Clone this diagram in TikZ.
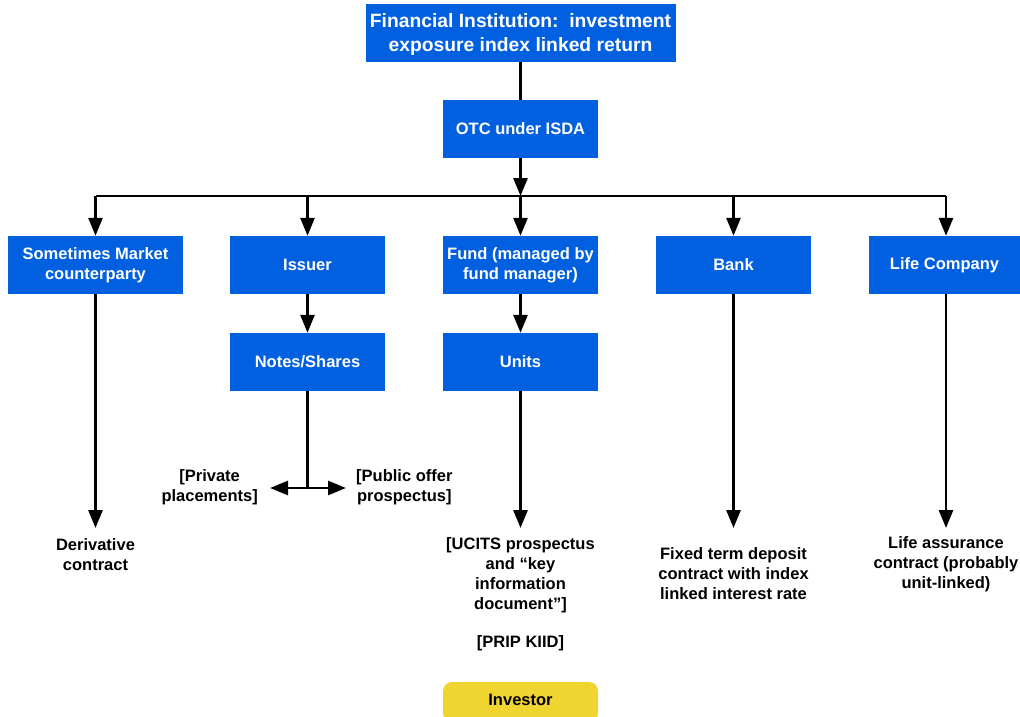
\documentclass[tikz,border=0pt]{standalone}
\usepackage{fontspec}
\setmainfont{Liberation Sans}
\usetikzlibrary{arrows.meta}
\definecolor{boxblue}{RGB}{0,96,223}
\definecolor{invyellow}{RGB}{240,213,48}
\begin{document}
\begin{tikzpicture}[x=1pt,y=-1pt,
  bbox/.style={draw=none,fill=boxblue,text=white,font=\bfseries\fontsize{16.5}{20}\selectfont,align=center,minimum width=155pt,minimum height=58pt,inner sep=2pt},
  lbl/.style={font=\bfseries\fontsize{16.5}{20}\selectfont,align=center,inner sep=0pt},
  conn/.style={line width=2.8pt,-{Triangle[length=18pt,width=14pt]}},
  plain/.style={line width=2.8pt}]
\useasboundingbox (0,0) rectangle (1020,717);
\node[bbox,minimum width=310pt] (fi) at (520.5,33) {};
\node[text=white,font=\bfseries\fontsize{19.3}{24}\selectfont,align=center,inner sep=0pt] (fitext) at (520.5,35) {Financial Institution:\ \ investment\\exposure index linked return};
\node[bbox] (otc) at (520.5,129) {OTC under ISDA};
\coordinate (hub) at (520.5,196);
\coordinate (hl) at (95.5,196);
\coordinate (hr) at (946,196);
\node[bbox,minimum width=175pt] (smc) at (95.5,265) {Sometimes Market\\counterparty};
\node[bbox] (iss) at (307.5,265) {Issuer};
\node[bbox] (fund) at (520.5,265) {Fund (managed by\\fund manager)};
\node[bbox] (bank) at (733.5,265) {Bank};
\node[bbox,minimum width=151pt] (life) at (944.5,265) {Life Company};
\node[bbox] (notes) at (307.5,362) {Notes/Shares};
\node[bbox] (units) at (520.5,362) {Units};
\coordinate (split) at (307.5,488);
\coordinate (pl) at (270,488);
\coordinate (pr) at (346,488);
\node[lbl,anchor=east] (priv) at (258,487) {[Private\\placements]};
\node[lbl,anchor=west] (pub) at (356,487) {[Public offer\\prospectus]};
\node[lbl] (deriv) at (95.5,555) {Derivative\\contract};
\node[lbl] (ucits) at (520.5,575) {[UCITS prospectus\\and ``key\\information\\document'']};
\node[lbl] (prip) at (520.5,643) {[PRIP KIID]};
\node[lbl] (fixed) at (733.5,574) {Fixed term deposit\\contract with index\\linked interest rate};
\node[lbl] (lifec) at (946,564) {Life assurance\\contract (probably\\unit-linked)};
\node[fill=invyellow,rounded corners=9pt,minimum width=155pt,minimum height=40pt,inner sep=0pt] (inv) at (520.5,702) {};
\node[font=\bfseries\fontsize{16.5}{20}\selectfont] at (520.5,700) {Investor};
\draw[plain] (fi.south) -- (otc.north);
\draw[conn] (otc.south) -- (hub);
\draw[plain] (hl) -- (hr);
\draw[conn] (hl) -- (smc.north);
\draw[conn] (iss.north |- hub) -- (iss.north);
\draw[conn] (hub) -- (fund.north);
\draw[conn] (bank.north |- hub) -- (bank.north);
\draw[conn] (hr) -- (hr |- life.north);
\draw[conn] (iss.south) -- (notes.north);
\draw[conn] (fund.south) -- (units.north);
\draw[plain] (notes.south) -- (split);
\draw[conn] (split) -- (pl);
\draw[conn] (split) -- (pr);
\draw[conn] (smc.south) -- (95.5,528);
\draw[conn] (units.south) -- (520.5,528);
\draw[conn] (bank.south) -- (733.5,528);
\draw[conn] (hr |- life.south) -- (946,528);
\end{tikzpicture}
\end{document}
